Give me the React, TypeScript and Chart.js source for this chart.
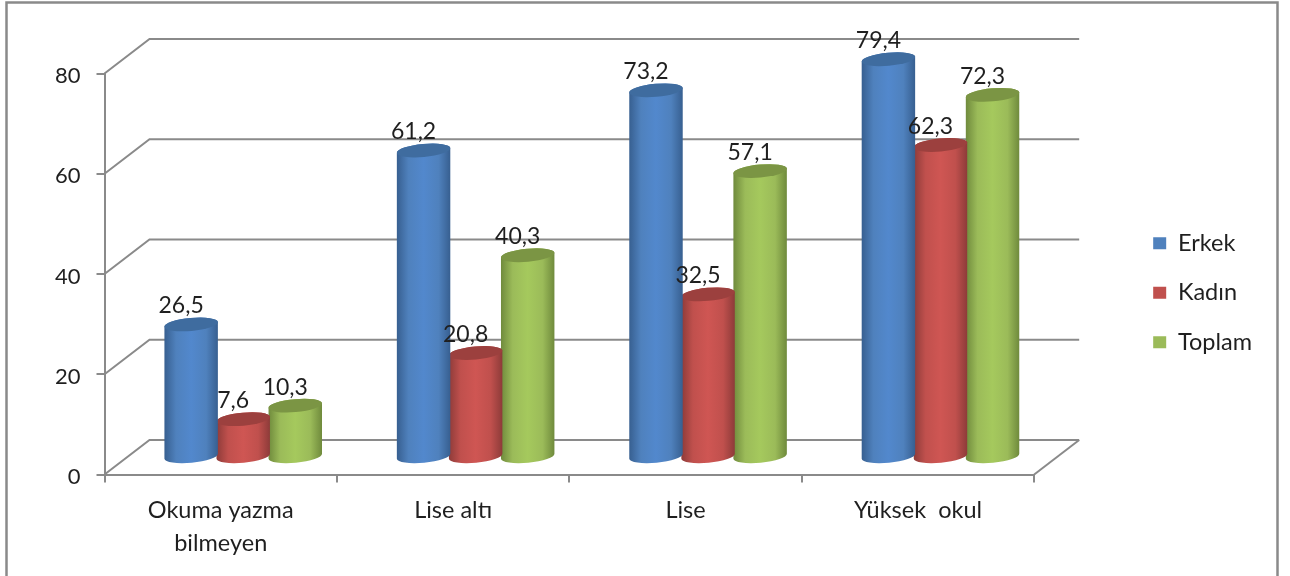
import React, { useEffect, useRef } from "react";
import { Chart, registerables } from "chart.js";

Chart.register(...registerables);

const categories: (string | string[])[] = [["Okuma yazma", "bilmeyen"], "Lise altı", "Lise", "Yüksek  okul"];
const erkek = [26.5, 61.2, 73.2, 79.4];
const kadin = [7.6, 20.8, 32.5, 62.3];
const toplam = [10.3, 40.3, 57.1, 72.3];

const FONT = "Lato";
const TEXT = "#1f1f1f";
const GRID = "#8a8a8a";
const DX = 45;
const DY = -34.5;

const shades = [
  { base: "#4f81bd", edge: "#375f90", mid: "#5288cd", top: "#3f6c9f" },
  { base: "#c0504d", edge: "#8d3b39", mid: "#cf5653", top: "#9c403e" },
  { base: "#9bbb59", edge: "#6f8a3c", mid: "#a5c95d", top: "#7b9544" },
];

const cylinders = {
  id: "cylinders",
  afterLayout(chart: any) {
    // let the two-line category label draw below the axis box
    chart.scales.x.bottom = chart.height;
  },
  beforeDraw(chart: any) {
    const { ctx } = chart;
    chart.scales.y.getLabelItems(chart.chartArea).forEach((item: any) => {
      item.options.translation[1] += 2.5;
    });
    ctx.save();
    ctx.strokeStyle = GRID;
    ctx.lineWidth = 2.5;
    ctx.strokeRect(6.5, 2.5, 1271, 700);
    ctx.restore();
  },
  beforeDatasetsDraw(chart: any) {
    const { ctx, scales, chartArea } = chart;
    const ys = scales.y;
    ctx.save();
    ctx.strokeStyle = GRID;
    ctx.lineWidth = 2;
    ys.ticks.forEach((t: any) => {
      const y = ys.getPixelForValue(t.value);
      ctx.beginPath();
      ctx.moveTo(chartArea.left, y);
      ctx.lineTo(chartArea.left + DX, y + DY);
      ctx.lineTo(chartArea.right + DX, y + DY);
      ctx.stroke();
    });
    const y0 = ys.getPixelForValue(0);
    ctx.beginPath();
    ctx.moveTo(chartArea.right, y0);
    ctx.lineTo(chartArea.right + DX, y0 + DY);
    ctx.stroke();
    ctx.restore();
  },
  beforeDatasetDraw(chart: any, args: any) {
    const { ctx } = chart;
    const meta = chart.getDatasetMeta(args.index);
    const c = shades[args.index];
    const rot = -0.09;
    meta.data.forEach((bar: any) => {
      const p = bar.getProps(["x", "y", "base", "width"], true);
      const cx = p.x + DX / 2;
      const top = p.y + DY / 2;
      const bottom = p.base + DY / 2;
      const rx = p.width / 2 + 0.8;
      const ry = 6.5;
      const g = ctx.createLinearGradient(cx - rx, 0, cx + rx, 0);
      g.addColorStop(0, c.edge);
      g.addColorStop(0.22, c.base);
      g.addColorStop(0.5, c.mid);
      g.addColorStop(0.78, c.base);
      g.addColorStop(1, c.edge);
      ctx.save();
      ctx.fillStyle = g;
      ctx.beginPath();
      ctx.ellipse(cx, bottom, rx, ry, rot, Math.PI, 0, true);
      ctx.ellipse(cx, top, rx, ry, rot, 0, Math.PI, true);
      ctx.closePath();
      ctx.fill();
      ctx.fillStyle = c.top;
      ctx.beginPath();
      ctx.ellipse(cx, top, rx, ry, rot, 0, Math.PI * 2);
      ctx.fill();
      ctx.restore();
    });
    return false;
  },
  afterDatasetsDraw(chart: any) {
    const { ctx, data } = chart;
    ctx.save();
    ctx.fillStyle = TEXT;
    ctx.font = `23px ${FONT}`;
    ctx.textAlign = "center";
    ctx.textBaseline = "middle";
    data.datasets.forEach((ds: any, i: number) => {
      chart.getDatasetMeta(i).data.forEach((bar: any, j: number) => {
        const label = ds.data[j].toFixed(1).replace(".", ",");
        ctx.fillText(label, bar.x + 12.5, bar.y + DY / 2 - 18.5);
      });
    });
    ctx.restore();
  },
};

export default function App() {
  const ref = useRef<HTMLCanvasElement>(null);
  useEffect(() => {
    const mk = (label: string, data: number[], i: number) => ({
      label,
      data,
      backgroundColor: shades[i].base,
      borderWidth: 0,
      categoryPercentage: 0.672,
      barPercentage: 1,
    });
    const chart = new Chart(ref.current as HTMLCanvasElement, {
      type: "bar",
      data: {
        labels: categories as any,
        datasets: [mk("Erkek", erkek, 0), mk("Kadın", kadin, 1), mk("Toplam", toplam, 2)],
      },
      plugins: [cylinders as any],
      options: {
        responsive: false,
        animation: false,
        layout: { padding: { left: 0, top: 73.5, right: 28, bottom: 64 } },
        plugins: {
          title: { display: false },
          tooltip: { enabled: false },
          legend: {
            position: "right",
            align: "center",
            labels: {
              boxWidth: 13,
              boxHeight: 12,
              padding: 26,
              color: TEXT,
              font: { family: FONT, size: 23.5 },
            },
          },
        },
        scales: {
          x: {
            grid: { offset: true, drawOnChartArea: false, color: GRID, lineWidth: 2, tickLength: 8 },
            border: { color: GRID, width: 2 },
            ticks: {
              color: TEXT,
              padding: 11,
              maxRotation: 0,
              autoSkip: false,
              font: { family: FONT, size: 23.5, lineHeight: 33 / 23.5 },
            },
            afterFit: (s: any) => {
              s.height = 37.5;
            },
          },
          y: {
            min: 0,
            max: 80,
            grid: { drawOnChartArea: false, color: GRID, lineWidth: 2, tickLength: 8 },
            border: { color: GRID, width: 2 },
            ticks: {
              stepSize: 20,
              color: TEXT,
              padding: 16,
              font: { family: FONT, size: 22 },
            },
            afterFit: (s: any) => {
              s.width = 104.5;
            },
          },
          spacer: {
            type: "linear",
            position: "right",
            display: true,
            grid: { display: false },
            border: { display: false },
            ticks: { display: false },
            afterFit: (s: any) => {
              s.width = 93;
            },
          },
        },
      } as any,
    });
    return () => chart.destroy();
  }, []);
  return (
    <div style={{ position: "absolute", left: 0, top: 0, width: 1290, height: 576, overflow: "hidden", background: "#fff" }}>
      <canvas ref={ref} width={1290} height={576} style={{ display: "block" }} />
    </div>
  );
}
